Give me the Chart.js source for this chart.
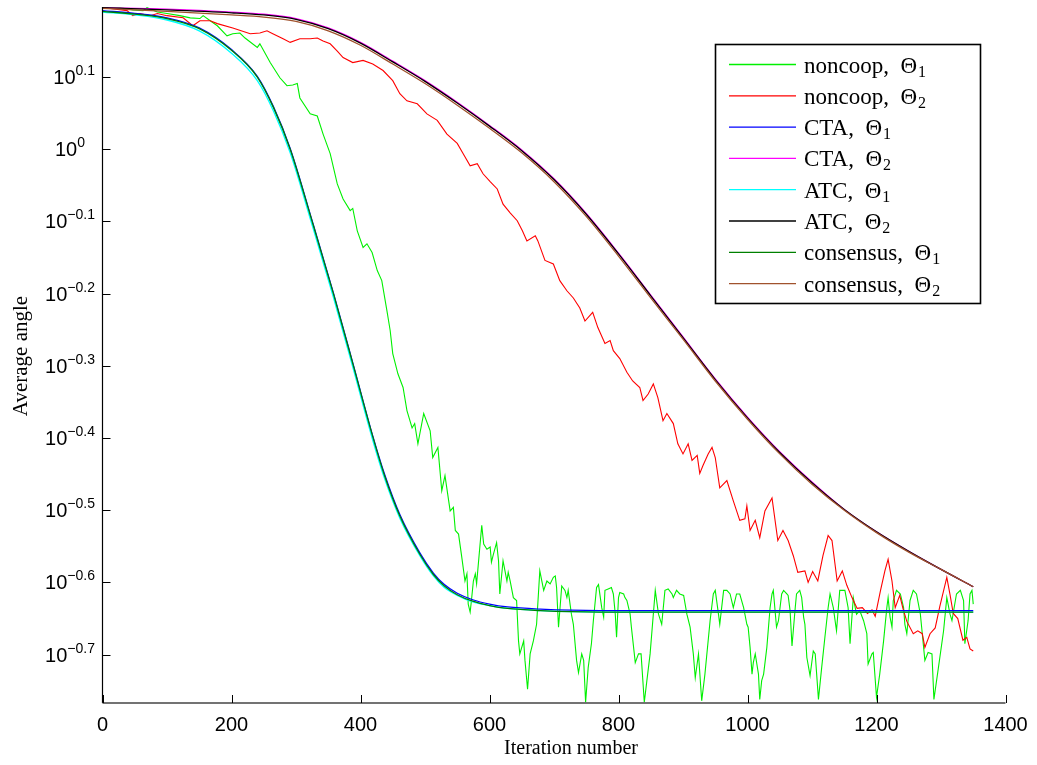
<!DOCTYPE html>
<html>
<head>
<meta charset="utf-8">
<script src="https://cdn.jsdelivr.net/npm/chart.js@4.4.1/dist/chart.umd.min.js"></script>
<style>
  html, body { margin: 0; padding: 0; background: #fff; }
  canvas { display: block; }
</style>
</head>
<body>
<canvas id="myChart" width="1037" height="765"></canvas>
<script>
// x = iteration number, y = log10 of the average angle (axis is logarithmic)
const xTicks = [0, 200, 400, 600, 800, 1000, 1200, 1400];
const yTickExps = [-0.7, -0.6, -0.5, -0.4, -0.3, -0.2, -0.1, 0, 0.1];

const seriesNames = ['noncoop, Θ', 'noncoop, Θ', 'CTA, Θ', 'CTA, Θ', 'ATC, Θ', 'ATC, Θ', 'consensus, Θ', 'consensus, Θ'];
const seriesSubs = ['1', '2', '1', '2', '1', '2', '1', '2'];
const seriesColors = ['#00f000', '#ff0000', '#0000ff', '#ff00ff', '#00ffff', '#000000', '#008000', '#a0522d'];

const noncoopTheta1 = [
  [0,0.195],[12,0.195],[27,0.196],[47,0.193],[63,0.192],[69,0.196],[85,0.190],[100,0.188],[120,0.185],[136,0.182],
  [151,0.181],[156,0.185],[167,0.178],[178,0.171],[193,0.157],[202,0.160],[213,0.161],[221,0.154],[240,0.141],[244,0.146],
  [260,0.120],[275,0.099],[286,0.088],[295,0.089],[302,0.091],[306,0.071],[322,0.049],[333,0.046],[342,0.021],[353,-0.006],
  [364,-0.048],[373,-0.069],[384,-0.085],[388,-0.082],[395,-0.113],[404,-0.136],[410,-0.131],[418,-0.143],[426,-0.168],[433,-0.182],
  [441,-0.224],[446,-0.251],[450,-0.283],[458,-0.311],[466,-0.330],[472,-0.362],[480,-0.386],[484,-0.380],[489,-0.408],[498,-0.366],
  [508,-0.390],[512,-0.427],[520,-0.413],[526,-0.473],[531,-0.452],[539,-0.501],[544,-0.496],[547,-0.528],[552,-0.533],[557,-0.565],
  [562,-0.598],[565,-0.588],[567,-0.630],[570,-0.641],[572,-0.625],[575,-0.598],[578,-0.588],[580,-0.602],[585,-0.551],[588,-0.521],
  [591,-0.547],[596,-0.554],[601,-0.551],[603,-0.572],[606,-0.561],[611,-0.545],[614,-0.570],[616,-0.616],[621,-0.570],[624,-0.584],
  [627,-0.598],[629,-0.586],[632,-0.598],[637,-0.621],[642,-0.625],[645,-0.681],[647,-0.699],[653,-0.681],[655,-0.708],[659,-0.748],
  [663,-0.699],[668,-0.681],[673,-0.658],[678,-0.584],[684,-0.611],[689,-0.598],[694,-0.602],[699,-0.593],[702,-0.591],[704,-0.607],
  [707,-0.662],[712,-0.605],[717,-0.611],[720,-0.621],[722,-0.611],[727,-0.644],[730,-0.658],[735,-0.708],[738,-0.725],[743,-0.699],
  [746,-0.708],[749,-0.766],[753,-0.718],[758,-0.685],[761,-0.653],[766,-0.607],[769,-0.603],[774,-0.635],[777,-0.648],[779,-0.611],
  [784,-0.609],[789,-0.607],[792,-0.616],[795,-0.644],[797,-0.676],[800,-0.621],[802,-0.614],[808,-0.616],[810,-0.621],[813,-0.625],
  [818,-0.644],[820,-0.662],[826,-0.711],[831,-0.699],[835,-0.699],[840,-0.766],[844,-0.736],[849,-0.699],[857,-0.611],[862,-0.644],
  [867,-0.658],[872,-0.611],[877,-0.609],[883,-0.616],[885,-0.621],[890,-0.611],[895,-0.616],[901,-0.618],[906,-0.644],[911,-0.662],
  [916,-0.699],[919,-0.732],[924,-0.699],[929,-0.764],[934,-0.727],[942,-0.653],[947,-0.616],[950,-0.611],[955,-0.644],[957,-0.658],
  [963,-0.611],[968,-0.611],[973,-0.616],[978,-0.635],[983,-0.616],[988,-0.616],[994,-0.635],[999,-0.658],[1001,-0.662],[1004,-0.690],
  [1007,-0.727],[1009,-0.711],[1012,-0.699],[1017,-0.727],[1019,-0.762],[1022,-0.736],[1025,-0.727],[1030,-0.690],[1035,-0.635],[1038,-0.616],
  [1040,-0.611],[1045,-0.662],[1048,-0.653],[1053,-0.616],[1056,-0.611],[1061,-0.616],[1063,-0.618],[1066,-0.639],[1069,-0.688],[1074,-0.635],
  [1076,-0.616],[1081,-0.611],[1084,-0.621],[1087,-0.648],[1089,-0.658],[1092,-0.704],[1097,-0.729],[1102,-0.695],[1105,-0.699],[1110,-0.762],
  [1115,-0.718],[1120,-0.676],[1125,-0.635],[1128,-0.616],[1133,-0.635],[1138,-0.667],[1143,-0.611],[1151,-0.611],[1156,-0.635],[1159,-0.685],
  [1164,-0.621],[1169,-0.644],[1174,-0.639],[1180,-0.653],[1185,-0.671],[1187,-0.713],[1193,-0.699],[1195,-0.697],[1200,-0.759],[1205,-0.727],
  [1211,-0.681],[1216,-0.635],[1218,-0.621],[1221,-0.648],[1224,-0.662],[1226,-0.625],[1231,-0.611],[1237,-0.616],[1242,-0.635],[1244,-0.658],
  [1247,-0.671],[1252,-0.625],[1257,-0.611],[1262,-0.616],[1268,-0.644],[1270,-0.662],[1275,-0.708],[1280,-0.697],[1286,-0.699],[1289,-0.762],
  [1296,-0.718],[1304,-0.667],[1309,-0.621],[1314,-0.644],[1317,-0.653],[1324,-0.616],[1330,-0.611],[1335,-0.625],[1337,-0.685],[1342,-0.653],
  [1345,-0.616],[1348,-0.611],[1350,-0.630]
];

const noncoopTheta2 = [
  [0,0.195],[12,0.195],[38,0.192],[47,0.185],[58,0.188],[74,0.185],[85,0.188],[100,0.185],[125,0.182],[140,0.171],
  [151,0.178],[167,0.178],[178,0.174],[202,0.168],[229,0.160],[244,0.161],[255,0.164],[264,0.160],[280,0.153],[291,0.148],
  [306,0.153],[322,0.153],[333,0.154],[342,0.150],[353,0.146],[364,0.136],[373,0.127],[388,0.120],[404,0.123],[419,0.118],
  [435,0.109],[450,0.095],[461,0.077],[472,0.067],[488,0.063],[503,0.049],[519,0.040],[534,0.021],[550,0.008],[559,-0.006],
  [570,-0.023],[581,-0.020],[590,-0.034],[601,-0.045],[612,-0.055],[621,-0.076],[632,-0.088],[643,-0.099],[651,-0.113],[658,-0.127],
  [671,-0.120],[675,-0.127],[686,-0.154],[699,-0.159],[709,-0.182],[720,-0.196],[730,-0.206],[740,-0.220],[748,-0.238],[760,-0.226],
  [768,-0.247],[779,-0.269],[787,-0.265],[792,-0.279],[802,-0.290],[813,-0.309],[822,-0.321],[833,-0.330],[838,-0.348],[846,-0.339],
  [854,-0.325],[861,-0.344],[869,-0.376],[875,-0.366],[885,-0.380],[892,-0.408],[900,-0.422],[908,-0.408],[914,-0.431],[922,-0.424],
  [926,-0.449],[931,-0.438],[939,-0.422],[945,-0.413],[950,-0.427],[957,-0.469],[968,-0.459],[978,-0.487],[988,-0.514],[996,-0.512],
  [999,-0.494],[1004,-0.528],[1012,-0.514],[1019,-0.538],[1027,-0.501],[1038,-0.483],[1047,-0.542],[1055,-0.528],[1063,-0.542],[1071,-0.563],
  [1078,-0.586],[1089,-0.584],[1094,-0.600],[1101,-0.585],[1109,-0.598],[1117,-0.563],[1125,-0.535],[1131,-0.542],[1139,-0.598],[1147,-0.584],
  [1154,-0.604],[1162,-0.621],[1170,-0.636],[1178,-0.635],[1186,-0.643],[1193,-0.638],[1198,-0.647],[1206,-0.612],[1213,-0.584],[1218,-0.568],
  [1224,-0.598],[1229,-0.635],[1236,-0.618],[1241,-0.636],[1247,-0.654],[1257,-0.671],[1264,-0.667],[1271,-0.671],[1275,-0.690],[1283,-0.671],
  [1291,-0.663],[1298,-0.634],[1309,-0.593],[1314,-0.617],[1319,-0.643],[1326,-0.650],[1334,-0.680],[1340,-0.676],[1345,-0.692],[1350,-0.695]
];

const ctaTheta1 = [
  [0,0.192],[50,0.188],[100,0.182],[150,0.168],[200,0.138],[240,0.101],[265,0.059],[291,0.001],[325,-0.099],[358,-0.199],
  [389,-0.299],[419,-0.397],[438,-0.452],[461,-0.506],[492,-0.559],[513,-0.587],[530,-0.603],[550,-0.615],[574,-0.624],[600,-0.630],
  [628,-0.634],[679,-0.637],[771,-0.639],[1350,-0.639]
];

const ctaTheta2 = [
  [0,0.196],[100,0.194],[200,0.190],[250,0.187],[300,0.181],[350,0.168],[400,0.148],[450,0.122],[500,0.095],[550,0.065],
  [600,0.033],[650,-0.001],[700,-0.041],[750,-0.089],[800,-0.144],[850,-0.202],[900,-0.260],[950,-0.318],[1000,-0.371],[1050,-0.419],
  [1100,-0.461],[1150,-0.499],[1200,-0.530],[1250,-0.557],[1300,-0.582],[1350,-0.606]
];

const atcTheta1 = [
  [0,0.190],[50,0.186],[100,0.179],[150,0.164],[200,0.133],[240,0.095],[265,0.053],[291,-0.005],[325,-0.105],[358,-0.205],
  [389,-0.305],[419,-0.403],[438,-0.458],[461,-0.511],[492,-0.563],[513,-0.591],[530,-0.607],[550,-0.618],[574,-0.627],[600,-0.632],
  [628,-0.636],[679,-0.639],[771,-0.641],[1350,-0.641]
];

const atcTheta2 = [
  [0,0.196],[100,0.193],[200,0.189],[250,0.186],[300,0.180],[350,0.167],[400,0.147],[450,0.121],[500,0.094],[550,0.064],
  [600,0.032],[650,-0.002],[700,-0.042],[750,-0.090],[800,-0.145],[850,-0.203],[900,-0.261],[950,-0.319],[1000,-0.372],[1050,-0.420],
  [1100,-0.462],[1150,-0.499],[1200,-0.530],[1250,-0.557],[1300,-0.582],[1350,-0.606]
];

const consensusTheta1 = [
  [0,0.191],[50,0.187],[100,0.181],[150,0.167],[200,0.137],[240,0.100],[265,0.058],[291,0.000],[325,-0.100],[358,-0.200],
  [389,-0.300],[419,-0.398],[438,-0.454],[461,-0.508],[492,-0.561],[513,-0.589],[530,-0.605],[550,-0.617],[574,-0.626],[600,-0.632],
  [628,-0.636],[679,-0.639],[771,-0.641],[1350,-0.641]
];

const consensusTheta2 = [
  [0,0.195],[100,0.191],[200,0.186],[250,0.183],[300,0.177],[350,0.164],[400,0.144],[450,0.118],[500,0.091],[550,0.061],
  [600,0.029],[650,-0.005],[700,-0.045],[750,-0.093],[800,-0.148],[850,-0.206],[900,-0.263],[950,-0.321],[1000,-0.374],[1050,-0.422],
  [1100,-0.464],[1150,-0.500],[1200,-0.531],[1250,-0.558],[1300,-0.582],[1350,-0.606]
];

const allSeries = [noncoopTheta1, noncoopTheta2, ctaTheta1, ctaTheta2, atcTheta1, atcTheta2, consensusTheta1, consensusTheta2];

// ticks, tick labels, axis titles and the boxed legend, drawn the way the original figure looks
const decor = {
  id: 'decor',
  afterDraw(chart) {
    const ctx = chart.ctx;
    const xs = chart.scales.x, ys = chart.scales.y;
    const a = chart.chartArea;
    ctx.save();

    // axis lines
    ctx.strokeStyle = '#000';
    ctx.lineWidth = 1.2;
    ctx.beginPath(); ctx.moveTo(a.left, a.top); ctx.lineTo(a.left, a.bottom); ctx.stroke();
    ctx.strokeStyle = '#444';
    ctx.lineWidth = 1.6;
    ctx.beginPath(); ctx.moveTo(a.left, a.bottom); ctx.lineTo(a.right, a.bottom); ctx.stroke();

    // inward tick marks
    ctx.strokeStyle = '#000';
    ctx.lineWidth = 1;
    xTicks.forEach(v => {
      const px = Math.round(xs.getPixelForValue(v)) + 0.5;
      ctx.beginPath(); ctx.moveTo(px, a.bottom); ctx.lineTo(px, a.bottom - 8); ctx.stroke();
    });
    yTickExps.forEach(e => {
      const py = Math.round(ys.getPixelForValue(e)) + 0.5;
      ctx.beginPath(); ctx.moveTo(a.left, py); ctx.lineTo(a.left + 8, py); ctx.stroke();
    });

    // x tick labels
    ctx.fillStyle = '#000';
    ctx.font = '20px "Liberation Sans", Arial, sans-serif';
    ctx.textAlign = 'center';
    ctx.textBaseline = 'alphabetic';
    xTicks.forEach(v => ctx.fillText(String(v), xs.getPixelForValue(v), a.bottom + 28));

    // y tick labels: 10 with a superscript exponent
    ctx.textAlign = 'left';
    yTickExps.forEach(e => {
      const py = ys.getPixelForValue(e);
      const sup = e === 0 ? '0' : (e < 0 ? '\u2212' : '') + Math.abs(e).toFixed(1);
      ctx.font = '14px "Liberation Sans", Arial, sans-serif';
      const supW = ctx.measureText(sup).width;
      ctx.font = '20px "Liberation Sans", Arial, sans-serif';
      const baseW = ctx.measureText('10').width;
      const right = e === 0 ? 85 : 95;
      ctx.fillText('10', right - supW - baseW, py + 7);
      ctx.font = '14px "Liberation Sans", Arial, sans-serif';
      ctx.fillText(sup, right - supW, py - 2);
    });

    // axis titles
    ctx.font = '20px "Liberation Serif", "Times New Roman", serif';
    ctx.textAlign = 'center';
    ctx.fillText('Iteration number', 571, 754);
    ctx.save();
    ctx.translate(27, 356);
    ctx.rotate(-Math.PI / 2);
    ctx.font = '21px "Liberation Serif", "Times New Roman", serif';
    ctx.fillText('Average angle', 0, 0);
    ctx.restore();

    // legend box
    const bx = 715, by = 44, bw = 265, bh = 259;
    ctx.fillStyle = '#fff';
    ctx.fillRect(bx, by, bw, bh);
    ctx.strokeStyle = '#000';
    ctx.lineWidth = 1.6;
    ctx.strokeRect(bx + 0.5, by + 0.5, bw, bh);
    ctx.textAlign = 'left';
    seriesNames.forEach((name, i) => {
      const ly = 64.5 + i * 31.3;
      ctx.strokeStyle = seriesColors[i];
      ctx.lineWidth = 1.3;
      ctx.beginPath(); ctx.moveTo(729, ly); ctx.lineTo(796, ly); ctx.stroke();
      ctx.fillStyle = '#000';
      ctx.font = '23px "Liberation Serif", "Times New Roman", serif';
      const head = name.replace(', ', ',\u2002');
      ctx.fillText(head, 804, ly + 8);
      const w = ctx.measureText(head).width;
      ctx.font = '16px "Liberation Serif", "Times New Roman", serif';
      ctx.fillText(seriesSubs[i], 804 + w + 1, ly + 12);
    });
    ctx.restore();
  }
};

const ctx = document.getElementById('myChart').getContext('2d');
new Chart(ctx, {
  type: 'line',
  data: {
    datasets: allSeries.map((s, i) => ({
      label: seriesNames[i] + seriesSubs[i],
      data: s.map(p => ({ x: p[0], y: p[1] })),
      borderColor: seriesColors[i],
      borderWidth: i < 2 ? 1.1 : 1.3,
      pointRadius: 0,
      fill: false,
      cubicInterpolationMode: i < 2 ? 'default' : 'monotone',
      tension: 0,
      order: allSeries.length - 1 - i   // later series drawn on top
    }))
  },
  options: {
    responsive: false,
    animation: false,
    devicePixelRatio: 1,
    layout: { padding: { left: 0, right: 31.5, top: 7, bottom: 0 } },
    plugins: { legend: { display: false }, tooltip: { enabled: false } },
    scales: {
      x: {
        type: 'linear',
        min: 0,
        max: 1400,
        ticks: { display: false },
        grid: { display: false },
        border: { display: false },
        afterFit: s => { s.height = 62; }
      },
      y: {
        type: 'linear',
        min: -0.767,
        max: 0.197,
        ticks: { display: false },
        grid: { display: false },
        border: { display: false },
        afterFit: s => { s.width = 102.5; }
      }
    }
  },
  plugins: [decor]
});
</script>
</body>
</html>
